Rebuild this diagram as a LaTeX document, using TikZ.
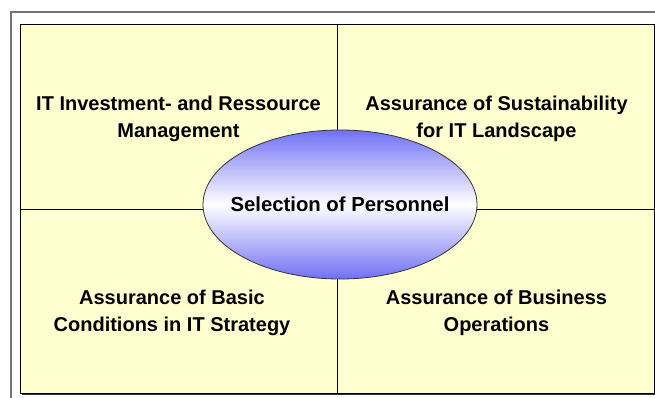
\documentclass[tikz,border=0pt]{standalone}
\usepackage{fontspec}
\setmainfont{Liberation Sans}
\usetikzlibrary{shapes.geometric}
\definecolor{paper}{RGB}{255,255,208}
\definecolor{ellblue}{RGB}{112,112,245}
\definecolor{framegray}{RGB}{115,115,115}
\definecolor{shadowgray}{RGB}{50,50,50}
\tikzset{
  quadtext/.style={align=center,font=\fontsize{20}{27}\selectfont\bfseries,inner sep=0pt},
  board/.style={draw=black,line width=1pt,fill=paper,minimum width=634pt,minimum height=368pt,inner sep=0pt},
  divider/.style={draw=black,line width=1pt},
  hub/.style={ellipse,draw=black!80,line width=0.8pt,minimum width=274pt,minimum height=149pt,inner sep=0pt,
    top color=ellblue,bottom color=ellblue,middle color=white},
  hubtext/.style={font=\fontsize{20.3}{24}\selectfont\bfseries,inner sep=0pt},
  frame/.style={draw=framegray,line width=1.8pt}
}
\begin{document}
\begin{tikzpicture}[x=1pt,y=-1pt]
\useasboundingbox (0,0) rectangle (655,398);
\fill[white] (0,0) rectangle (655,398);
% outer frame
\coordinate (fa) at (11,398);
\coordinate (fb) at (11,12);
\coordinate (fc) at (655,12);
\draw[frame] (fa) -- (fb) -- (fc);
% shadow
\fill[shadowgray] (21.5,26.5) rectangle (656,395);
% board
\node[board] (B) at (337,209) {};
% dividers
\coordinate (vt) at (337,25);
\coordinate (vb) at (337,393);
\coordinate (hl) at (20,209);
\coordinate (hr) at (654,209);
\draw[divider] (vt) -- (vb);
\draw[divider] (hl) -- (hr);
% texts
\node[quadtext] (tl) at (178.5,119) {IT Investment- and Ressource\\Management};
\node[quadtext] (tr) at (496.5,119) {Assurance of Sustainability\\for IT Landscape};
\node[quadtext] (bl) at (172,313) {Assurance of Basic\\Conditions in IT Strategy};
\node[quadtext] (br) at (496.5,313) {Assurance of Business\\Operations};
% hub
\node[hub] (hub) at (340,204.5) {};
\node[hubtext] (hubt) at (hub.center) {Selection of Personnel};
\end{tikzpicture}
\end{document}
